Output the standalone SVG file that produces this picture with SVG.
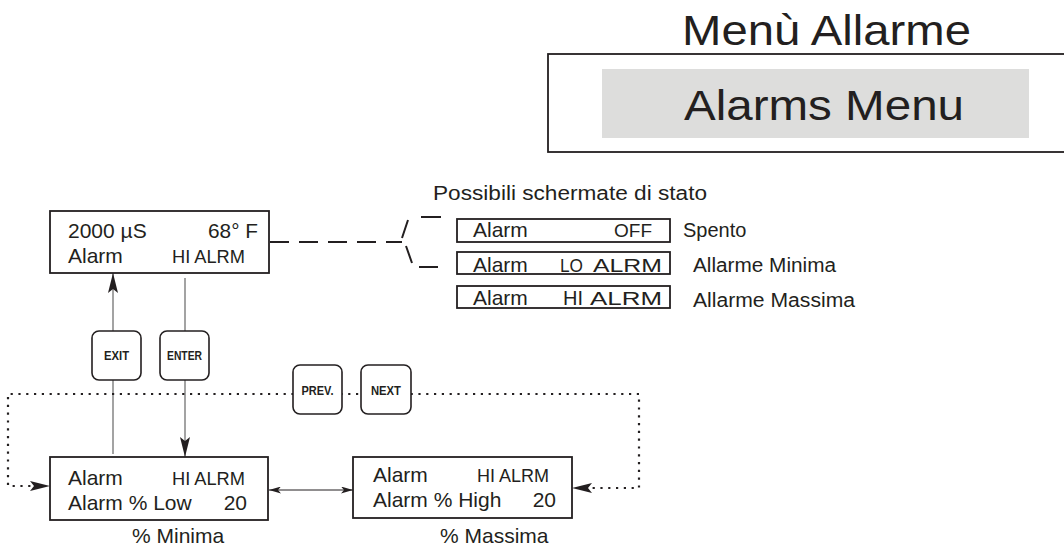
<svg xmlns="http://www.w3.org/2000/svg" width="1064" height="548" viewBox="0 0 1064 548">
  <style>
    text { font-family: "Liberation Sans", Arial, sans-serif; fill: #231f20; }
    .title { font-size: 42px; }
    .lcd { font-size: 21px; }
    .small { font-size: 18px; }
    .lbl { font-size: 20px; }
    .key { font-size: 12px; font-weight: bold; text-anchor: middle; }
    .box { fill: #fff; stroke: #231f20; stroke-width: 1.8; }
    .btn { fill: #fff; stroke: #231f20; stroke-width: 1.6; }
    .flow { fill: none; stroke: #8c8c8c; stroke-width: 1.6; }
    .dot { fill: none; stroke: #231f20; stroke-width: 2.2; stroke-dasharray: 2.2 5.6; }
    .dash { fill: none; stroke: #231f20; stroke-width: 2; }
    .thin { fill: none; stroke: #231f20; stroke-width: 1; }
  </style>
  <defs>
    <marker id="head" viewBox="0 0 20 10" refX="20" refY="5" markerWidth="20" markerHeight="10" markerUnits="userSpaceOnUse" orient="auto">
      <path d="M0 0 L20 5 L0 10 L4 5 Z" fill="#231f20"/>
    </marker>
    <marker id="headS" viewBox="0 0 12 7" refX="12" refY="3.5" markerWidth="12" markerHeight="7" markerUnits="userSpaceOnUse" orient="auto-start-reverse">
      <path d="M0 0 L12 3.5 L0 7 L3 3.5 Z" fill="#231f20"/>
    </marker>
  </defs>

  <!-- menu header -->
  <g id="header">
    <text class="title" x="682" y="45" textLength="289" lengthAdjust="spacingAndGlyphs">Menù Allarme</text>
    <rect x="548" y="54" width="530" height="98" fill="#fff" stroke="#231f20" stroke-width="1.8"/>
    <rect x="602" y="69" width="427" height="69" fill="#dddddc"/>
    <text class="title" x="684" y="120" textLength="280" lengthAdjust="spacingAndGlyphs">Alarms Menu</text>
  </g>

  <!-- connectors -->
  <g id="connectors">
    <path class="flow" d="M113 454 V273" marker-end="url(#head)"/>
    <path class="flow" d="M185 278 V457" marker-end="url(#head)"/>
    <path class="dot" d="M317 394 H8 V486 H50" marker-end="url(#head)"/>
    <path class="dot" d="M317 394 H639 V488 H572" marker-end="url(#head)"/>
    <path class="thin" d="M269 490 H353" marker-start="url(#headS)" marker-end="url(#headS)"/>
    <path class="dash" d="M270 242 H402" stroke-dasharray="19 10"/>
    <path class="dash" d="M402 238 L408 220 M421 217 H441 M406 246 L412 263 M419 267 H438"/>
  </g>

  <!-- main reading display -->
  <g id="status-display">
    <rect class="box" x="50" y="211" width="219" height="62"/>
    <text class="lcd" x="68" y="238">2000 µS</text>
    <text class="lcd" x="208" y="238" textLength="50" lengthAdjust="spacingAndGlyphs">68° F</text>
    <text class="lcd" x="68" y="263">Alarm</text>
    <text class="small" x="172" y="263" textLength="73" lengthAdjust="spacingAndGlyphs">HI ALRM</text>
  </g>

  <!-- possible status screens -->
  <g id="status-list">
    <text class="lbl" x="433" y="200" textLength="274" lengthAdjust="spacingAndGlyphs">Possibili schermate di stato</text>
    <rect class="box" x="457" y="219" width="213" height="23"/>
    <text class="lcd" x="473" y="237">Alarm</text>
    <text class="small" x="614" y="237" textLength="38" lengthAdjust="spacingAndGlyphs">OFF</text>
    <text class="lbl" x="683" y="237">Spento</text>

    <rect class="box" x="457" y="252" width="213" height="22"/>
    <text class="lcd" x="473" y="272">Alarm</text>
    <text class="small" x="560" y="272" textLength="23" lengthAdjust="spacingAndGlyphs">LO</text>
    <text class="small" x="593" y="272" textLength="69" lengthAdjust="spacingAndGlyphs">ALRM</text>
    <text class="lbl" x="693" y="272" textLength="143" lengthAdjust="spacingAndGlyphs">Allarme Minima</text>

    <rect class="box" x="457" y="286" width="213" height="22"/>
    <text class="lcd" x="473" y="305">Alarm</text>
    <text class="lcd" x="563" y="305" textLength="20" lengthAdjust="spacingAndGlyphs">HI</text>
    <text class="small" x="590" y="305" textLength="72" lengthAdjust="spacingAndGlyphs">ALRM</text>
    <text class="lbl" x="693" y="307" textLength="162" lengthAdjust="spacingAndGlyphs">Allarme Massima</text>
  </g>

  <!-- keys -->
  <g id="key-exit">
    <rect class="btn" x="92" y="331" width="49" height="49" rx="7"/>
    <text class="key" x="116.5" y="360" textLength="25" lengthAdjust="spacingAndGlyphs">EXIT</text>
  </g>
  <g id="key-enter">
    <rect class="btn" x="160" y="331" width="49" height="49" rx="7"/>
    <text class="key" x="184.5" y="360" textLength="35" lengthAdjust="spacingAndGlyphs">ENTER</text>
  </g>
  <g id="key-prev">
    <rect class="btn" x="293" y="365" width="49" height="49" rx="7"/>
    <text class="key" x="317.5" y="395" textLength="32" lengthAdjust="spacingAndGlyphs">PREV.</text>
  </g>
  <g id="key-next">
    <rect class="btn" x="361" y="365" width="50" height="49" rx="7"/>
    <text class="key" x="386" y="395" textLength="30" lengthAdjust="spacingAndGlyphs">NEXT</text>
  </g>

  <!-- low setpoint screen -->
  <g id="alarm-low">
    <rect class="box" x="50" y="457" width="218" height="63"/>
    <text class="lcd" x="68" y="485">Alarm</text>
    <text class="small" x="172" y="485" textLength="73" lengthAdjust="spacingAndGlyphs">HI ALRM</text>
    <text class="lcd" x="68" y="510">Alarm % Low</text>
    <text class="lcd" x="247" y="510" text-anchor="end">20</text>
    <text class="lcd" x="132" y="543">% Minima</text>
  </g>

  <!-- high setpoint screen -->
  <g id="alarm-high">
    <rect class="box" x="353" y="457" width="219" height="61"/>
    <text class="lcd" x="373" y="482">Alarm</text>
    <text class="small" x="477" y="482" textLength="72" lengthAdjust="spacingAndGlyphs">HI ALRM</text>
    <text class="lcd" x="373" y="507">Alarm % High</text>
    <text class="lcd" x="556" y="507" text-anchor="end">20</text>
    <text class="lcd" x="440" y="543">% Massima</text>
  </g>
</svg>
